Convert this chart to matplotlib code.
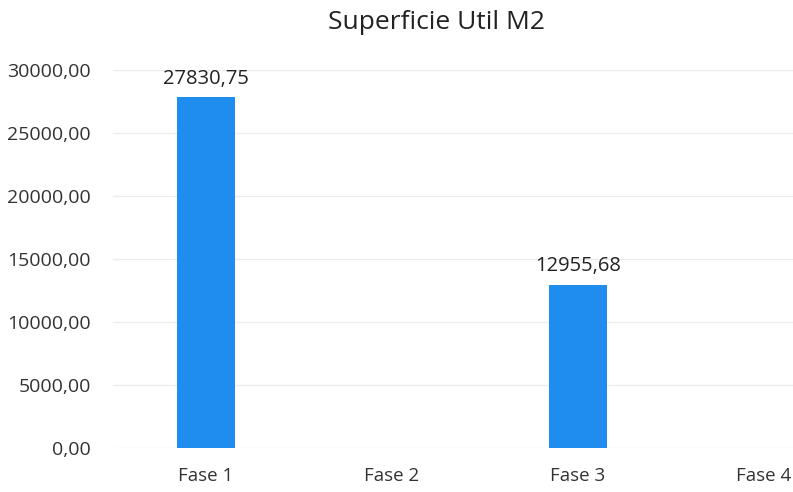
import numpy as np
import matplotlib
matplotlib.rcParams['font.family'] = ['Open Sans', 'DejaVu Sans']
import matplotlib.pyplot as plt

fases = ['Fase 1', 'Fase 2', 'Fase 3', 'Fase 4']
superficie = [27830.75, 0, 12955.68, 0]
labels = ['27830,75', '', '12955,68', '']

fig = plt.figure(figsize=(7.93, 4.92), dpi=100)
ax = fig.add_axes([0.1425, 0.0894, 0.8575, 0.7683])

x = np.arange(len(fases))
bars = ax.bar(x, superficie, width=0.31, color='#1f8ded', zorder=2)

for b, lab in zip(bars, labels):
    if lab:
        ax.annotate(lab, (b.get_x() + b.get_width() / 2, b.get_height()),
                    xytext=(0, 6), textcoords='offset points',
                    ha='center', va='bottom', fontsize=14.5, color='#222222')

ax.set_xlim(-0.5, 3.156)
ax.set_ylim(0, 30000)
ax.set_yticks(np.arange(0, 30001, 5000))
ax.set_yticklabels([f'{v:.2f}'.replace('.', ',') for v in np.arange(0, 30001, 5000)],
                   fontsize=14, color='#333333')
ax.set_xticks(x)
ax.set_xticklabels(fases, fontsize=13.5, color='#333333')
ax.tick_params(axis='both', length=0)
ax.tick_params(axis='y', pad=16)
ax.tick_params(axis='x', pad=14)

ax.grid(axis='y', color='#ececec', linewidth=0.9, zorder=0)
for s in ax.spines.values():
    s.set_visible(False)

fig.text(0.551, 0.955, 'Superficie Util M2', ha='center', va='center',
         fontsize=19, color='#222222')

plt.savefig('out.png', dpi=100)
